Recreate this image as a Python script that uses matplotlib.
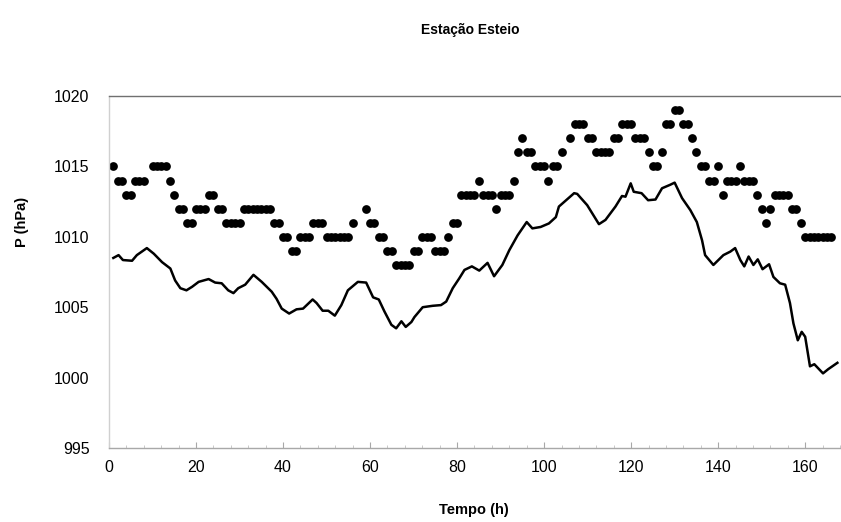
import numpy as np
import matplotlib
matplotlib.use('Agg')
from matplotlib import pyplot as plt
from matplotlib.ticker import MultipleLocator

plt.rcParams['font.family'] = ['Liberation Sans', 'DejaVu Sans']

nan = np.nan

# hourly observed pressure (hPa), hours 1..166; nan = no reading
obs_hours = np.arange(1, 167)
obs_p = [
    1015, 1014, 1014, 1013, 1013, 1014, 1014, 1014, nan, 1015,   # 1-10
    1015, 1015, 1015, 1014, 1013, 1012, 1012, 1011, 1011, 1012,  # 11-20
    1012, 1012, 1013, 1013, 1012, 1012, 1011, 1011, 1011, 1011,  # 21-30
    1012, 1012, 1012, 1012, 1012, 1012, 1012, 1011, 1011, 1010,  # 31-40
    1010, 1009, 1009, 1010, 1010, 1010, 1011, 1011, 1011, 1010,  # 41-50
    1010, 1010, 1010, 1010, 1010, 1011, nan, nan, 1012, 1011,    # 51-60
    1011, 1010, 1010, 1009, 1009, 1008, 1008, 1008, 1008, 1009,  # 61-70
    1009, 1010, 1010, 1010, 1009, 1009, 1009, 1010, 1011, 1011,  # 71-80
    1013, 1013, 1013, 1013, 1014, 1013, 1013, 1013, 1012, 1013,  # 81-90
    1013, 1013, 1014, 1016, 1017, 1016, 1016, 1015, 1015, 1015,  # 91-100
    1014, 1015, 1015, 1016, nan, 1017, 1018, 1018, 1018, 1017,   # 101-110
    1017, 1016, 1016, 1016, 1016, 1017, 1017, 1018, 1018, 1018,  # 111-120
    1017, 1017, 1017, 1016, 1015, 1015, 1016, 1018, 1018, 1019,  # 121-130
    1019, 1018, 1018, 1017, 1016, 1015, 1015, 1014, 1014, 1015,  # 131-140
    1013, 1014, 1014, 1014, 1015, 1014, 1014, 1014, 1013, 1012,  # 141-150
    1011, 1012, 1013, 1013, 1013, 1013, 1012, 1012, 1011, 1010,  # 151-160
    1010, 1010, 1010, 1010, 1010, 1010,                          # 161-166
]

# continuous series
line_h = [
    1.0, 2.2, 3.2, 5.3, 6.4, 8.7, 10.3, 12.2, 14.1, 15.2,
    16.4, 17.8, 19.1, 20.6, 22.9, 24.4, 25.9, 27.4, 28.6, 29.7,
    31.3, 33.2, 35.1, 37.4, 38.5, 39.7, 41.4, 43.1, 44.6, 46.8,
    47.7, 49.1, 50.4, 51.9, 53.4, 54.9, 57.2, 59.1, 60.7, 62.0,
    63.3, 64.9, 66.0, 67.2, 68.2, 69.5, 70.2, 72.1, 74.4, 76.3,
    77.5, 79.0, 80.5, 81.7, 83.4, 85.1, 87.0, 88.5, 90.4, 92.0,
    93.9, 96.0, 97.3, 99.2, 101.1, 102.7, 103.4, 106.9, 107.6, 109.9,
    112.6, 114.1, 116.4, 117.9, 118.7, 119.9, 120.6, 122.4, 123.9, 125.6,
    127.1, 129.0, 130.0, 131.7, 133.6, 135.1, 136.3, 137.0, 138.9, 141.2,
    142.8, 143.9, 145.1, 146.0, 147.0, 148.1, 149.1, 150.2, 151.7, 152.7,
    154.2, 155.4, 156.5, 157.3, 158.3, 159.2, 160.0, 161.1, 162.1, 164.1,
    165.3, 167.4,
]
line_p = [
    1008.5, 1008.7, 1008.35, 1008.3, 1008.7, 1009.2, 1008.8, 1008.2, 1007.75, 1006.9,
    1006.35, 1006.2, 1006.45, 1006.8, 1007.0, 1006.75, 1006.7, 1006.2, 1006.0, 1006.35,
    1006.6, 1007.3, 1006.8, 1006.1, 1005.6, 1004.9, 1004.55, 1004.85, 1004.9, 1005.55,
    1005.3, 1004.75, 1004.75, 1004.4, 1005.15, 1006.2, 1006.8, 1006.75, 1005.7, 1005.55,
    1004.7, 1003.75, 1003.5, 1004.0, 1003.6, 1003.95, 1004.3, 1005.0, 1005.1, 1005.15,
    1005.4, 1006.35, 1007.05, 1007.65, 1007.9, 1007.6, 1008.15, 1007.2, 1008.0, 1009.05,
    1010.1, 1011.05, 1010.6, 1010.7, 1010.95, 1011.4, 1012.15, 1013.1, 1013.05, 1012.25,
    1010.9, 1011.2, 1012.15, 1012.9, 1012.85, 1013.8, 1013.2, 1013.1, 1012.6, 1012.65,
    1013.45, 1013.7, 1013.85, 1012.75, 1011.9, 1011.05, 1009.75, 1008.7, 1008.0, 1008.7,
    1008.95, 1009.2, 1008.35, 1007.9, 1008.6, 1008.0, 1008.4, 1007.7, 1008.05, 1007.15,
    1006.7, 1006.6, 1005.3, 1003.85, 1002.65, 1003.25, 1002.9, 1000.8, 1000.95, 1000.3,
    1000.6, 1001.05,
]

fig = plt.figure(figsize=(8.41, 5.22), dpi=100)
ax = fig.add_axes([0.1296, 0.1418, 0.8692, 0.6742])

ax.plot(obs_hours, obs_p, 'o', color='black', markersize=6.3, markeredgewidth=0)
ax.plot(line_h, line_p, '-', color='black', lw=1.8, solid_joinstyle='round')

ax.set_xlim(0, 168)
ax.set_ylim(995, 1020)
ax.xaxis.set_major_locator(MultipleLocator(20))
ax.xaxis.set_minor_locator(MultipleLocator(4))
ax.yaxis.set_major_locator(MultipleLocator(5))

ax.spines['right'].set_visible(False)
ax.spines['top'].set_color('#707070')
ax.spines['left'].set_color('#d0d0d0')
ax.spines['bottom'].set_color('#a8a8a8')
for s in ax.spines.values():
    s.set_linewidth(1.0)

ax.tick_params(axis='x', which='major', direction='in', length=4, color='#a8a8a8',
               labelsize=11.5, pad=9)
ax.tick_params(axis='x', which='minor', direction='in', length=2.5, color='#c0c0c0')
ax.tick_params(axis='y', which='both', length=0, labelsize=11.5, pad=14)

fig.text(470 / 841, 1 - 30 / 522, 'Estação Esteio', ha='center', va='center',
         fontsize=10, fontweight='bold')
fig.text(474 / 841, 1 - 510 / 522, 'Tempo (h)', ha='center', va='center',
         fontsize=10.5, fontweight='bold')
fig.text(22 / 841, 1 - 222 / 522, 'P (hPa)', ha='center', va='center',
         rotation=90, fontsize=10.5, fontweight='bold')

fig.savefig('out.png', dpi=100)
